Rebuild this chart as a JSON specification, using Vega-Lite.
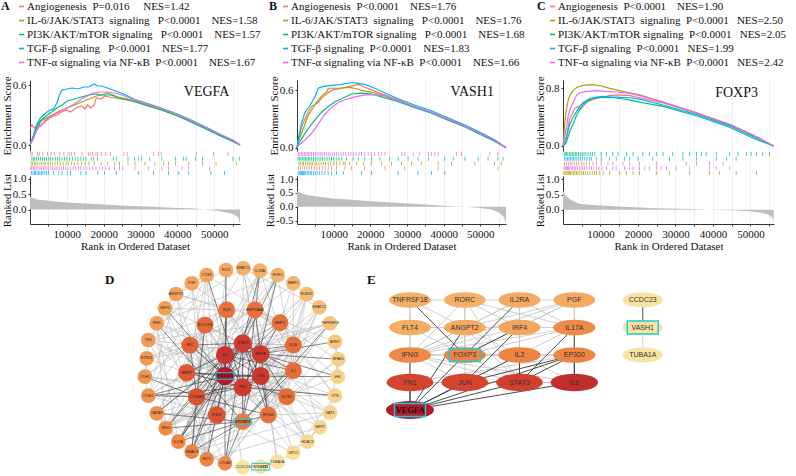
{
"$schema":"https://vega.github.io/schema/vega-lite/v6.json",
"padding":{"left":1,"top":1,"right":0,"bottom":0},
"background":"white",
"config":{
 "view":{"stroke":null},
 "font":"Liberation Serif",
 "axis":{"labelFont":"Liberation Serif","titleFont":"Liberation Serif","labelFontSize":11,"titleFontSize":11,"titleFontWeight":"normal","labelColor":"#111","titleColor":"#111","domainColor":"#333","tickColor":"#333","tickSize":2,"labelPadding":2,"gridColor":"#ebebeb","gridWidth":0.8},
 "axisY":{"titlePadding":0},
 "axisX":{"titlePadding":1},
 "legend":{"padding":0,"symbolType":"stroke","symbolSize":25,"symbolStrokeWidth":1.6,"labelFont":"Liberation Serif","labelFontSize":11,"labelColor":"#111","labelLimit":400,"labelOffset":0,"rowPadding":2,"titleFont":"Liberation Serif","titleFontSize":12,"titleFontWeight":"bold","titleColor":"#111","titleOrient":"left","titleAnchor":"start"}
},
"datasets":{
 "es":[
  {"p":"A","s":"a","x":[0,500,1200,2000,3000,4000,5000,6500,7500,8500,10000,11000,12500,14000,15000,15600,16500,17400,18000,19300,20300,21500,23000,25000,27000,28500,32000,36000,40000,44000,48000,52000,55000,57000],"y":[0.16,0.2,0.17,0.21,0.19,0.24,0.27,0.29,0.3,0.33,0.35,0.33,0.37,0.39,0.36,0.40,0.37,0.40,0.47,0.46,0.49,0.48,0.47,0.46,0.45,0.44,0.40,0.355,0.30,0.235,0.165,0.095,0.045,0.0]},
  {"p":"A","s":"b","x":[0,900,1800,3000,4500,6500,8000,10000,12000,14000,16000,18000,19500,21000,22500,24000,26500,28500,32000,36000,40000,44000,48000,52000,55000,57000],"y":[0,0.06,0.15,0.24,0.27,0.31,0.34,0.37,0.4,0.43,0.46,0.49,0.5,0.52,0.5,0.48,0.46,0.44,0.40,0.35,0.295,0.23,0.16,0.09,0.04,0]},
  {"p":"A","s":"c","x":[0,800,1800,2800,3700,5500,7300,8700,10100,12000,14000,16000,18000,20000,22000,24000,26500,28500,32000,36000,40000,44000,48000,52000,55000,57000],"y":[0,0.08,0.18,0.24,0.27,0.32,0.37,0.40,0.44,0.46,0.48,0.50,0.51,0.50,0.50,0.47,0.45,0.43,0.39,0.345,0.29,0.225,0.155,0.085,0.035,0]},
  {"p":"A","s":"d","x":[0,800,1800,2800,3700,4600,5500,6400,7300,8000,8700,10000,11500,13000,14700,16000,17400,18500,19500,21000,22500,24000,26000,28500,32000,36000,40000,44000,48000,52000,55000,57000],"y":[0,0.08,0.2,0.27,0.3,0.33,0.35,0.36,0.42,0.50,0.55,0.56,0.57,0.56,0.58,0.58,0.61,0.59,0.59,0.57,0.55,0.53,0.50,0.455,0.415,0.365,0.31,0.245,0.175,0.10,0.05,0]},
  {"p":"A","s":"e","x":[0,700,1400,2500,3700,5000,6500,8000,10000,12000,14000,15500,17000,19000,21000,23000,25000,27000,28500,32000,36000,40000,44000,48000,52000,55000,57000],"y":[0,0.05,0.12,0.18,0.22,0.26,0.30,0.33,0.37,0.41,0.46,0.49,0.52,0.53,0.53,0.52,0.50,0.47,0.45,0.41,0.36,0.305,0.24,0.17,0.10,0.05,0]},
  {"p":"B","s":"a","x":[0,360,1270,2180,3090,4000,4900,5810,6720,8080,9440,12170,14440,16710,18520,21250,23970,27600,32000,36700,41000,45800,51000,54000,57000],"y":[0,0.08,0.22,0.30,0.38,0.43,0.45,0.47,0.52,0.56,0.60,0.62,0.64,0.66,0.63,0.59,0.55,0.50,0.43,0.37,0.30,0.225,0.13,0.075,0]},
  {"p":"B","s":"b","x":[0,360,1725,3090,4900,6270,7630,8080,8540,11260,13980,15800,18520,21250,23970,27600,32000,36700,41000,45800,51000,54000,57000],"y":[0,0.06,0.20,0.34,0.45,0.52,0.57,0.58,0.62,0.62,0.63,0.62,0.59,0.57,0.54,0.49,0.425,0.365,0.295,0.22,0.125,0.07,0]},
  {"p":"B","s":"c","x":[0,360,1725,3090,4900,6720,8540,10350,12170,14890,17620,20340,23060,27600,32000,36700,41000,45800,51000,54000,57000],"y":[0,0.04,0.12,0.20,0.29,0.37,0.43,0.48,0.51,0.56,0.57,0.56,0.53,0.48,0.42,0.36,0.29,0.215,0.12,0.065,0]},
  {"p":"B","s":"d","x":[0,360,1270,2180,3540,4900,5810,7170,9440,12170,15070,16710,18520,21250,23970,27600,32000,36700,41000,45800,51000,54000,57000],"y":[0,0.09,0.26,0.37,0.44,0.53,0.62,0.64,0.65,0.66,0.68,0.67,0.66,0.62,0.57,0.51,0.445,0.385,0.315,0.235,0.14,0.08,0]},
  {"p":"B","s":"e","x":[0,360,2180,4000,5810,7630,9440,11260,13080,15800,18520,21250,23970,27600,32000,36700,41000,45800,51000,54000,57000],"y":[0,0.02,0.08,0.15,0.25,0.35,0.42,0.47,0.50,0.53,0.55,0.55,0.54,0.49,0.43,0.37,0.30,0.225,0.13,0.075,0]},
  {"p":"C","s":"a","x":[0,180,890,1330,1780,2490,3110,4000,4450,5330,6220,7110,8890,10670,12450,14220,17780,20450,26670,35560,44450,51560,56200],"y":[0,0.02,0.10,0.25,0.38,0.45,0.52,0.55,0.50,0.55,0.60,0.63,0.66,0.68,0.70,0.71,0.70,0.67,0.60,0.46,0.29,0.12,0]},
  {"p":"C","s":"b","x":[0,180,440,890,1330,1780,2670,3560,4450,6220,8000,9780,12450,15110,17780,20450,26670,35560,44450,51560,56200],"y":[0,0.10,0.30,0.50,0.62,0.70,0.77,0.81,0.83,0.85,0.85,0.84,0.80,0.77,0.74,0.71,0.61,0.46,0.30,0.13,0]},
  {"p":"C","s":"c","x":[0,180,890,1780,2670,3560,4450,5330,6670,8000,9780,12450,15110,17780,20450,26670,35560,44450,51560,56200],"y":[0,0.0,0.05,0.20,0.30,0.42,0.50,0.58,0.63,0.66,0.67,0.68,0.66,0.64,0.61,0.55,0.42,0.26,0.09,0]},
  {"p":"C","s":"d","x":[0,180,890,1780,2670,3560,4450,5330,6220,7110,8890,10670,12450,14220,17780,20450,26670,35560,44450,51560,56200],"y":[0,0.02,0.12,0.30,0.40,0.47,0.55,0.60,0.63,0.66,0.68,0.69,0.68,0.68,0.67,0.65,0.57,0.44,0.28,0.11,0]},
  {"p":"C","s":"e","x":[0,180,890,1330,1780,2220,2670,3560,4450,6220,8890,11560,14220,17780,20450,26670,35560,44450,51560,56200],"y":[0,0.05,0.25,0.40,0.50,0.55,0.60,0.70,0.74,0.76,0.77,0.76,0.75,0.73,0.70,0.61,0.46,0.30,0.13,0]}
 ],
 "hits":[
  {"p":"A","s":"a","x":[200,600,2000,2500,3500,4800,5700,6700,8100,9200,10600,11200,12100,14100,15800,16300,17000,17900,18400,19300,20600,21800,25500,26400,33500,34900,35600,45200,49800,53700]},
  {"p":"A","s":"c","x":[500,900,1300,1800,2300,2900,3400,3900,4500,5100,5600,6200,6900,7500,8000,8700,9400,10000,10700,11500,12300,13000,13800,14500,15200,16600,17300,18300,22600,23500,26600,28400,29400,30300,32500,35800,39500,41700,42400,44900,46800,55100,56800]},
  {"p":"A","s":"b","x":[300,700,1200,1600,2100,2700,3200,3800,4300,4900,5500,6100,6800,7500,8200,9000,9800,10500,11300,12000,13000,14000,15000,16000,17400,19300,21100,23000,24300,26600,28500,31200,33900,36300,37600,39500,43100,46800,50500,56000]},
  {"p":"A","s":"e","x":[200,500,900,1300,1700,2200,2700,3100,3600,4100,4600,5100,5700,6200,6800,7300,7900,8500,9100,9700,10300,11000,11700,12400,13100,13800,14600,15400,16200,17000,17900,18800,19700,20600,21500,22900,24300,25200,28500,32100,35800,37600,41300,43100,48700]},
  {"p":"A","s":"d","x":[400,800,1200,1500,1900,2300,2700,3100,3500,4000,4500,5000,6400,7800,8700,10100,11000,13800,15200,18400,20200,23400,29400,33500,37600,40400,43100,49100,52800]},
  {"p":"B","s":"e","x":[400,800,1200,1600,2000,2400,2800,3200,3600,4000,4500,5000,5500,6000,6500,7000,7500,8000,8500,9000,9600,10200,10800,11400,12000,12600,13300,14000,14700,15400,16100,16900,17600,18500,19400,20300,21200,22200,23100,24000,28600,29400,31700,33500,35800,36700,37600,38500,43500,44900,52600,54800]},
  {"p":"B","s":"c","x":[300,700,1100,1500,1900,2300,2700,3100,3500,4000,4500,5000,5500,6000,6500,7000,7600,8200,8800,9400,10000,10700,11400,12200,13500,15300,16700,18500,20300,22600,25300,27600,30300,33000,35800,40300,42600,45800,49400,52100,54800,56200]},
  {"p":"B","s":"b","x":[500,900,1400,1800,2300,2800,3300,3800,4300,4900,5400,6000,6600,7200,7800,8500,9200,10000,10800,11700,12600,13100,14400,16300,18100,20300,23100,25800,28500,31200,33900,38500,42100,48500,53900,55700]},
  {"p":"B","s":"a","x":[400,900,1500,2100,2700,3300,4000,4700,5400,6100,6900,7700,8500,9400,10800,13100,14900,18500,24000,29400,38500,54800]},
  {"p":"B","s":"d","x":[300,600,900,1200,1500,1800,2100,2400,2800,3200,3600,4000,4500,5000,5500,6100,6800,7600,8500,9400,10800,12600,17600,20300,27600,33000,36700,40300]},
  {"p":"C","s":"c","x":[300,600,900,1300,1700,2100,2500,2900,3300,3700,4100,4600,5100,5600,6100,6700,7300,7900,8500,10200,11600,13300,14700,16900,18700,21300,23100,24900,26700,29300,32000,33800,35600,36900,38200,40900,44500,46700,48900,50200,51600,53300,55100]},
  {"p":"C","s":"d","x":[400,800,1200,1600,2000,2400,2800,3200,3700,4200,4700,5200,5800,6400,7100,7600,8900,10200,12400,14200,16400,17800,20000,24000,28400,32000,35600,40900,43600,46200]},
  {"p":"C","s":"a","x":[400,900,1400,1900,2400,3000,3600,4200,4900,5600,6300,7100,8000,8900,10200,12000,13300,16000,17800,20400,24900,32900,35600,39100,42700]},
  {"p":"C","s":"e","x":[300,600,900,1200,1500,1800,2200,2600,3000,3400,3800,4300,4800,5300,5800,6400,7000,7600,8200,8900,9600,10400,11600,13300,14200,16400,17800,18700,20400,21800,23100,24900,26200,27600,30200,33800,39100,40900,44500]},
  {"p":"C","s":"b","x":[200,500,800,1100,1400,1700,2000,2400,2800,3200,3600,4000,4500,5000,5500,6000,6600,7200,7800,8400,8900,9800,10700,12400,15100,16900,18700,20400,24900,28400,33800,39100,41800,46200,51600]}
 ],
 "rk":[
  {"p":"A","x":[0,500,2000,5700,10000,14900,20000,25000,33200,40000,45100,47000,50000,52400,55200,56500,57000],"y":[0.42,0.38,0.33,0.28,0.23,0.2,0.16,0.13,0.09,0.05,0.03,0.0,-0.03,-0.07,-0.15,-0.25,-0.45]},
  {"p":"B","x":[0,1000,3000,6000,10000,15000,20000,25000,30000,35000,40000,44000,46000,50000,53000,55000,56300,57000],"y":[0.58,0.5,0.42,0.36,0.3,0.25,0.2,0.16,0.12,0.08,0.04,0.01,0.0,-0.04,-0.1,-0.2,-0.35,-0.58]},
  {"p":"C","x":[0,300,800,1800,2900,4500,7100,12000,16000,25000,34000,39000,44500,49800,52500,54500,55800,56200],"y":[0.65,0.55,0.45,0.35,0.27,0.2,0.16,0.12,0.1,0.05,0.02,0.0,-0.02,-0.05,-0.09,-0.15,-0.25,-0.42]}
 ],
 "dn":[
  {"id":"CTGF","x":-0.346,"y":0.933,"v":0.35},
  {"id":"FLT4","x":-0.153,"y":0.983,"v":0.33},
  {"id":"NFATC1","x":0.02,"y":1.0,"v":0.3},
  {"id":"IL2RA","x":0.187,"y":0.976,"v":0.3},
  {"id":"RORC","x":0.364,"y":0.933,"v":0.28},
  {"id":"MMP1","x":0.52,"y":0.85,"v":0.26},
  {"id":"RUNX1","x":0.654,"y":0.743,"v":0.25},
  {"id":"NFATC2","x":0.78,"y":0.61,"v":0.22},
  {"id":"TNFRSF18","x":0.887,"y":0.45,"v":0.2},
  {"id":"ARNT","x":0.937,"y":0.266,"v":0.17},
  {"id":"EPAS1","x":0.97,"y":0.09,"v":0.14},
  {"id":"VHL","x":0.964,"y":-0.084,"v":0.12},
  {"id":"VTN","x":0.937,"y":-0.274,"v":0.11},
  {"id":"KAT5","x":0.887,"y":-0.444,"v":0.1},
  {"id":"NRP2","x":0.787,"y":-0.59,"v":0.09},
  {"id":"HDAC9","x":0.66,"y":-0.734,"v":0.08},
  {"id":"GPC1","x":0.52,"y":-0.844,"v":0.06},
  {"id":"TUBA1A","x":0.36,"y":-0.934,"v":0.04},
  {"id":"VASH1","x":0.194,"y":-0.984,"v":0.03,"h":1},
  {"id":"CCDC23","x":0.014,"y":-0.99,"v":0.03},
  {"id":"CTLA4","x":-0.163,"y":-0.95,"v":0.45},
  {"id":"FLT1","x":-0.346,"y":-0.91,"v":0.47},
  {"id":"SMAD3","x":-0.496,"y":-0.834,"v":0.47},
  {"id":"IL17A","x":-0.63,"y":-0.734,"v":0.45},
  {"id":"IFNG","x":-0.756,"y":-0.6,"v":0.44},
  {"id":"GATA3","x":-0.846,"y":-0.45,"v":0.42},
  {"id":"ITGB1","x":-0.93,"y":-0.274,"v":0.41},
  {"id":"CDH5","x":-0.963,"y":-0.084,"v":0.4},
  {"id":"NTRK1","x":-0.946,"y":0.1,"v":0.39},
  {"id":"TEK","x":-0.93,"y":0.283,"v":0.38},
  {"id":"IRF4","x":-0.846,"y":0.45,"v":0.38},
  {"id":"NRP1","x":-0.763,"y":0.6,"v":0.37},
  {"id":"ANGPT2","x":-0.653,"y":0.743,"v":0.36},
  {"id":"PGF","x":-0.496,"y":0.85,"v":0.35},
  {"id":"KDR","x":-0.146,"y":0.583,"v":0.55},
  {"id":"HSP90AA1","x":0.137,"y":0.583,"v":0.56},
  {"id":"NOTCH1","x":-0.363,"y":0.433,"v":0.6},
  {"id":"MMP2","x":0.387,"y":0.456,"v":0.55},
  {"id":"SRC","x":-0.513,"y":0.233,"v":0.63},
  {"id":"STAT3","x":0.014,"y":0.25,"v":0.8},
  {"id":"IL6","x":-0.163,"y":0.133,"v":0.86},
  {"id":"HIF1A","x":0.194,"y":0.143,"v":0.82},
  {"id":"IL1B","x":0.52,"y":0.233,"v":0.58},
  {"id":"MMP9","x":-0.546,"y":-0.044,"v":0.68},
  {"id":"VEGFA","x":-0.163,"y":-0.077,"v":1,"h":1},
  {"id":"JUN","x":0.194,"y":-0.077,"v":0.83},
  {"id":"IL2","x":0.52,"y":-0.024,"v":0.58},
  {"id":"FN1","x":0.014,"y":-0.19,"v":0.8},
  {"id":"CTNNB1","x":-0.446,"y":-0.284,"v":0.7},
  {"id":"NOS3","x":0.454,"y":-0.284,"v":0.58},
  {"id":"FGF2","x":-0.246,"y":-0.467,"v":0.7},
  {"id":"FOXP3","x":0.014,"y":-0.534,"v":0.52,"h":1},
  {"id":"EP300","x":0.27,"y":-0.467,"v":0.56}
 ],
 "de":[
  {"s":"KDR","t":["FLT1","FLT4","NRP1","NRP2","PGF","ANGPT2","TEK","SRC","HSP90AA1","NOS3","CDH5","IL6"],"w":1},
  {"s":"NOTCH1","t":["JUN","STAT3","HIF1A","SMAD3","GATA3","IFNG","EP300","IL6"],"w":1},
  {"s":"SRC","t":["HIF1A","FN1","ITGB1","NOS3","EP300","CDH5","TEK","NTRK1","HSP90AA1","IL6"],"w":1},
  {"s":"MMP2","t":["MMP9","MMP1","VTN","TEK","ANGPT2","FGF2","IL6","CTGF","ITGB1","HIF1A"],"w":1},
  {"s":"MMP9","t":["MMP1","IL1B","FGF2","CTGF","ITGB1","NOS3","TNFRSF18","TEK","NTRK1"],"w":1},
  {"s":"IL1B","t":["IL2","IFNG","IL17A","MMP1","NOS3","HIF1A","STAT3","JUN","FN1","NFATC2","RUNX1","VTN","NRP2","CTLA4"],"w":1},
  {"s":"IL2","t":["IL2RA","IFNG","CTLA4","IL17A","NFATC1","NFATC2","IRF4","GATA3","RUNX1","TNFRSF18","RORC","JUN"],"w":1},
  {"s":"NOS3","t":["HSP90AA1","FLT1","VHL","EPAS1","KAT5","HDAC9","TEK","CDH5","IL2","JUN"],"w":1},
  {"s":"FGF2","t":["FLT1","PGF","ANGPT2","KDR","NOTCH1","SMAD3","CTGF","GPC1","NRP1","ITGB1","STAT3","IL6"],"w":1},
  {"s":"EP300","t":["SMAD3","EPAS1","RUNX1","KAT5","HDAC9","NFATC1","NFATC2","ARNT","IRF4","GATA3","IL2","NOS3"],"w":1},
  {"s":"HSP90AA1","t":["EPAS1","ARNT","VHL","TUBA1A","JUN","IL1B","MMP2","NTRK1"],"w":1},
  {"s":"IL6","t":["IL2RA","RORC","GATA3","IRF4","TNFRSF18","CTGF","VTN","HIF1A","CCDC23"],"w":1},
  {"s":"JUN","t":["IL2","IL1B","NFATC1","NFATC2","SMAD3","HDAC9","RUNX1","KAT5","HIF1A"],"w":1},
  {"s":"HIF1A","t":["IL1B","MMP9","KAT5","HDAC9","TUBA1A","GPC1","FN1","IL2"],"w":1},
  {"s":"STAT3","t":["NRP1","NTRK1","KDR","HSP90AA1","HDAC9","MMP9","FN1","IL1B","TNFRSF18","NFATC1"],"w":1},
  {"s":"FN1","t":["TEK","NOTCH1","FGF2","SRC","NRP2","HDAC9","GPC1","FOXP3","EP300"],"w":1},
  {"s":"IL17A","t":["RORC","IFNG","GATA3","IL2RA","IRF4","TNFRSF18","CTLA4","IL2"],"w":1},
  {"s":"IFNG","t":["IRF4","GATA3","CTLA4","IL2RA","TNFRSF18","RUNX1","NFATC2","JUN"],"w":1},
  {"s":"FLT1","t":["FLT4","PGF","NRP1","NRP2","TEK","ANGPT2"],"w":1},
  {"s":"ANGPT2","t":["TEK","PGF","NRP1","FLT4","ITGB1"],"w":1},
  {"s":"CTLA4","t":["IL2RA","TNFRSF18","GATA3","IRF4","RORC"],"w":1},
  {"s":"RORC","t":["IRF4","GATA3","NFATC1","RUNX1"],"w":1},
  {"s":"NFATC1","t":["NFATC2","GATA3","IRF4"],"w":1},
  {"s":"RUNX1","t":["GATA3","SMAD3","NFATC2"],"w":1},
  {"s":"ARNT","t":["EPAS1","VHL"],"w":1},
  {"s":"EPAS1","t":["VHL","KAT5"],"w":1},
  {"s":"HDAC9","t":["KAT5","NRP2"],"w":1},
  {"s":"GPC1","t":["NRP2","TUBA1A","VTN"],"w":1},
  {"s":"VTN","t":["ITGB1","CDH5"],"w":1},
  {"s":"CDH5","t":["TEK","ITGB1","NTRK1"],"w":1},
  {"s":"SMAD3","t":["CTGF","GATA3","KAT5"],"w":1},
  {"s":"CTGF","t":["ITGB1","TEK","PGF"],"w":1},
  {"s":"TUBA1A","t":["CCDC23"],"w":1},
  {"s":"VEGFA","t":["IL6","STAT3","HIF1A","JUN","FN1","MMP9","SRC","KDR","FLT1","NRP1","CTNNB1","FGF2","MMP2","NOS3","HSP90AA1","FLT4","IL17A","SMAD3","ITGB1","VHL"],"w":2},
  {"s":"STAT3","t":["IL6","JUN","HIF1A","IL2","IL17A","RORC","FOXP3","EP300","SRC","IFNG","IL2RA","CTLA4","GATA3"],"w":2},
  {"s":"IL6","t":["JUN","IL1B","IL17A","IFNG","FN1","MMP9","IL2","CTLA4","SMAD3"],"w":2},
  {"s":"FOXP3","t":["IL2","CTLA4","IL2RA","GATA3","RORC","IRF4","TNFRSF18","IL17A","SMAD3","IFNG","EP300"],"w":2},
  {"s":"HIF1A","t":["ARNT","EPAS1","VHL","EP300","NOS3","HSP90AA1"],"w":2},
  {"s":"JUN","t":["FN1","EP300","CTNNB1","MMP9"],"w":2},
  {"s":"CTNNB1","t":["SMAD3","EP300","CDH5","NOTCH1","SRC","FN1","ITGB1"],"w":2},
  {"s":"FN1","t":["ITGB1","VTN","MMP2","MMP9","CTGF"],"w":2},
  {"s":"VASH1","t":["TUBA1A","CCDC23"],"w":2}
 ],
 "en":[
  {"id":"TNFRSF18","x":1,"y":1,"v":0.3},{"id":"RORC","x":2,"y":1,"v":0.3},{"id":"IL2RA","x":3,"y":1,"v":0.32},{"id":"PGF","x":4,"y":1,"v":0.32},
  {"id":"FLT4","x":1,"y":2,"v":0.3},{"id":"ANGPT2","x":2,"y":2,"v":0.32},{"id":"IRF4","x":3,"y":2,"v":0.34},{"id":"IL17A","x":4,"y":2,"v":0.45},
  {"id":"IFNG","x":1,"y":3,"v":0.45},{"id":"FOXP3","x":2,"y":3,"v":0.47,"h":1},{"id":"IL2","x":3,"y":3,"v":0.47},{"id":"EP300","x":4,"y":3,"v":0.47},
  {"id":"FN1","x":1,"y":4,"v":0.76},{"id":"JUN","x":2,"y":4,"v":0.76},{"id":"STAT3","x":3,"y":4,"v":0.78},{"id":"IL6","x":4,"y":4,"v":0.9},
  {"id":"VEGFA","x":1,"y":5,"v":1,"h":1},
  {"id":"CCDC23","x":5.25,"y":1,"v":0.03},{"id":"VASH1","x":5.25,"y":2,"v":0.03,"h":1},{"id":"TUBA1A","x":5.25,"y":3,"v":0.03}
 ],
 "ee":[
  {"s":"TNFRSF18","t":["RORC","FLT4","ANGPT2","IFNG"],"w":1},
  {"s":"RORC","t":["IL2RA","ANGPT2","IL17A","STAT3","FOXP3","IRF4","IFNG"],"w":1},
  {"s":"IL2RA","t":["PGF","IRF4","IFNG","ANGPT2","IL17A","STAT3"],"w":1},
  {"s":"PGF","t":["IL17A","ANGPT2","FOXP3","IFNG","IRF4","EP300"],"w":1},
  {"s":"FLT4","t":["ANGPT2","IFNG","FOXP3"],"w":1},
  {"s":"ANGPT2","t":["IRF4","FOXP3","IL2","IFNG","STAT3"],"w":1},
  {"s":"IRF4","t":["IL17A","IL2","IFNG","STAT3"],"w":1},
  {"s":"IL17A","t":["IFNG","EP300","IL2","FOXP3"],"w":1},
  {"s":"IFNG","t":["FOXP3","IL2","FN1","STAT3","IL6","JUN"],"w":1},
  {"s":"FOXP3","t":["IL2","JUN","STAT3","EP300"],"w":1},
  {"s":"IL2","t":["EP300","JUN","IL6"],"w":1},
  {"s":"FN1","t":["JUN","STAT3","IL6","EP300"],"w":1},
  {"s":"JUN","t":["STAT3","IL6"],"w":1},
  {"s":"STAT3","t":["IL6"],"w":1},
  {"s":"VASH1","t":["TUBA1A"],"w":1},
  {"s":"VEGFA","t":["FN1","JUN","STAT3","IL6","IL2","EP300","ANGPT2","FOXP3","IFNG"],"w":2},
  {"s":"FOXP3","t":["TNFRSF18","IL2RA","IRF4"],"w":2},
  {"s":"JUN","t":["IRF4","EP300"],"w":2},
  {"s":"STAT3","t":["IL17A","EP300","IL2"],"w":2},
  {"s":"IL6","t":["IL17A","EP300"],"w":2},
  {"s":"VASH1","t":["CCDC23"],"w":2}
 ]
},
"columns":3,
"spacing":{"row":0,"column":57},
"bounds":"flush",
"resolve":{"scale":{"color":"independent","size":"independent"},"legend":{"color":"independent","size":"independent"}},
"concat":[
 {"width":210,"height":71,
  "layer":[
   {"data":{"name":"es"},"transform":[{"filter":"datum.p=='A'"},{"flatten":["x","y"]}],
    "mark":{"type":"line","strokeWidth":1.2},
    "encoding":{
     "x":{"field":"x","type":"quantitative","scale":{"domain":[0,57000],"nice":false},"axis":{"orient":"bottom","values":[5000,10000,15000,20000,25000,30000,35000,40000,45000,50000,55000],"grid":true,"labels":false,"ticks":false,"domain":false,"title":null}},
     "y":{"field":"y","type":"quantitative","scale":{"domain":[-0.06,0.65],"nice":false,"zero":false},"axis":{"title":"Enrichment Score","values":[0,0.2,0.4,0.6],"format":".1f","grid":false}},
     "color":{"field":"s","type":"nominal","scale":{"domain":["a","b","c","d","e"],"range":["#F8766D","#A3A500","#00BF7D","#00B0F6","#E76BF3"]},
      "legend":{"orient":"none","legendX":-29,"legendY":-79,"direction":"vertical","title":"A","titlePadding":6,
       "labelExpr":"datum.value=='a'?'Angiogenesis\u00a0\u00a0P=0.016\u00a0\u00a0\u00a0\u00a0\u00a0NES=1.42':datum.value=='b'?'IL-6/JAK/STAT3\u00a0\u00a0signaling\u00a0\u00a0\u00a0P<0.0001\u00a0\u00a0\u00a0\u00a0NES=1.58':datum.value=='c'?'PI3K/AKT/mTOR signaling\u00a0\u00a0\u00a0P<0.0001\u00a0\u00a0\u00a0\u00a0NES=1.57':datum.value=='d'?'TGF-β signaling\u00a0\u00a0\u00a0P<0.0001\u00a0\u00a0\u00a0\u00a0NES=1.77':'TNF-α signaling via NF-κB\u00a0\u00a0P<0.0001\u00a0\u00a0\u00a0\u00a0NES=1.67'"}}
    }},
   {"data":{"values":[{"g":"VEGFA","x":47950,"y":0.53}]},
    "mark":{"type":"text","font":"Liberation Serif","fontSize":14,"color":"#111"},
    "encoding":{"x":{"field":"x","type":"quantitative"},"y":{"field":"y","type":"quantitative"},"text":{"field":"g"}}}
  ]},
 {"width":209,"height":71,
  "layer":[
   {"data":{"name":"es"},"transform":[{"filter":"datum.p=='B'"},{"flatten":["x","y"]}],
    "mark":{"type":"line","strokeWidth":1.2},
    "encoding":{
     "x":{"field":"x","type":"quantitative","scale":{"domain":[0,57000],"nice":false},"axis":{"orient":"bottom","values":[5000,10000,15000,20000,25000,30000,35000,40000,45000,50000,55000],"grid":true,"labels":false,"ticks":false,"domain":false,"title":null}},
     "y":{"field":"y","type":"quantitative","scale":{"domain":[-0.035,0.706],"nice":false,"zero":false},"axis":{"title":"Enrichment Score","values":[0,0.2,0.4,0.6],"format":".1f","grid":false}},
     "color":{"field":"s","type":"nominal","scale":{"domain":["a","b","c","d","e"],"range":["#F8766D","#A3A500","#00BF7D","#00B0F6","#E76BF3"]},
      "legend":{"orient":"none","legendX":-28,"legendY":-79,"direction":"vertical","title":"B","titlePadding":2,
       "labelExpr":"datum.value=='a'?'Angiogenesis\u00a0\u00a0P<0.0001\u00a0\u00a0\u00a0\u00a0NES=1.76':datum.value=='b'?'IL-6/JAK/STAT3\u00a0\u00a0signaling\u00a0\u00a0\u00a0P<0.0001\u00a0\u00a0\u00a0\u00a0NES=1.76':datum.value=='c'?'PI3K/AKT/mTOR signaling\u00a0\u00a0\u00a0P<0.0001\u00a0\u00a0\u00a0\u00a0NES=1.68':datum.value=='d'?'TGF-β signaling\u00a0\u00a0P<0.0001\u00a0\u00a0\u00a0\u00a0NES=1.83':'TNF-α signaling via NF-κB\u00a0\u00a0P<0.0001\u00a0\u00a0\u00a0\u00a0NES=1.66'"}}
    }},
   {"data":{"values":[{"g":"VASH1","x":47800,"y":0.576}]},
    "mark":{"type":"text","font":"Liberation Serif","fontSize":14,"color":"#111"},
    "encoding":{"x":{"field":"x","type":"quantitative"},"y":{"field":"y","type":"quantitative"},"text":{"field":"g"}}}
  ]},
 {"width":211,"height":71,
  "layer":[
   {"data":{"name":"es"},"transform":[{"filter":"datum.p=='C'"},{"flatten":["x","y"]}],
    "mark":{"type":"line","strokeWidth":1.2},
    "encoding":{
     "x":{"field":"x","type":"quantitative","scale":{"domain":[0,56300],"nice":false},"axis":{"orient":"bottom","values":[5000,10000,15000,20000,25000,30000,35000,40000,45000,50000,55000],"grid":true,"labels":false,"ticks":false,"domain":false,"title":null}},
     "y":{"field":"y","type":"quantitative","scale":{"domain":[-0.07,0.917],"nice":false,"zero":false},"axis":{"title":"Enrichment Score","values":[0,0.2,0.4,0.6,0.8],"format":".1f","grid":false}},
     "color":{"field":"s","type":"nominal","scale":{"domain":["a","b","c","d","e"],"range":["#F8766D","#A3A500","#00BF7D","#00B0F6","#E76BF3"]},
      "legend":{"orient":"none","legendX":-26,"legendY":-79,"direction":"vertical","title":"C","titlePadding":1,
       "labelExpr":"datum.value=='a'?'Angiogenesis\u00a0\u00a0P<0.0001\u00a0\u00a0\u00a0\u00a0NES=1.90':datum.value=='b'?'IL-6/JAK/STAT3\u00a0\u00a0signaling\u00a0\u00a0P<0.0001\u00a0\u00a0\u00a0NES=2.50':datum.value=='c'?'PI3K/AKT/mTOR signaling\u00a0\u00a0P<0.0001\u00a0\u00a0\u00a0NES=2.05':datum.value=='d'?'TGF-β signaling\u00a0\u00a0P<0.0001\u00a0\u00a0\u00a0NES=1.99':'TNF-α signaling via NF-κB\u00a0\u00a0P<0.0001\u00a0\u00a0\u00a0NES=2.42'"}}
    }},
   {"data":{"values":[{"g":"FOXP3","x":46300,"y":0.738}]},
    "mark":{"type":"text","font":"Liberation Serif","fontSize":14,"color":"#111"},
    "encoding":{"x":{"field":"x","type":"quantitative"},"y":{"field":"y","type":"quantitative"},"text":{"field":"g"}}}
  ]},
 {"width":210,"height":25,"data":{"name":"hits"},"transform":[{"filter":"datum.p=='A'"},{"flatten":["x"]}],
  "mark":{"type":"tick","thickness":0.8,"size":4,"opacity":0.9},
  "encoding":{
   "x":{"field":"x","type":"quantitative","scale":{"domain":[0,57000],"nice":false},"axis":{"values":[5000,10000,15000,20000,25000,30000,35000,40000,45000,50000,55000],"grid":true,"labels":false,"ticks":false,"domain":false,"title":null}},
   "y":{"field":"s","type":"nominal","scale":{"domain":["a","c","b","e","d"],"paddingInner":0,"paddingOuter":0.1},"axis":null},
   "color":{"field":"s","type":"nominal","scale":{"domain":["a","b","c","d","e"],"range":["#F8766D","#A3A500","#00BF7D","#00B0F6","#E76BF3"]},"legend":null}
  }},
 {"width":209,"height":25,"data":{"name":"hits"},"transform":[{"filter":"datum.p=='B'"},{"flatten":["x"]}],
  "mark":{"type":"tick","thickness":0.8,"size":4,"opacity":0.9},
  "encoding":{
   "x":{"field":"x","type":"quantitative","scale":{"domain":[0,57000],"nice":false},"axis":{"values":[5000,10000,15000,20000,25000,30000,35000,40000,45000,50000,55000],"grid":true,"labels":false,"ticks":false,"domain":false,"title":null}},
   "y":{"field":"s","type":"nominal","scale":{"domain":["e","c","b","a","d"],"paddingInner":0,"paddingOuter":0.1},"axis":null},
   "color":{"field":"s","type":"nominal","scale":{"domain":["a","b","c","d","e"],"range":["#F8766D","#A3A500","#00BF7D","#00B0F6","#E76BF3"]},"legend":null}
  }},
 {"width":211,"height":25,"data":{"name":"hits"},"transform":[{"filter":"datum.p=='C'"},{"flatten":["x"]}],
  "mark":{"type":"tick","thickness":0.8,"size":4,"opacity":0.9},
  "encoding":{
   "x":{"field":"x","type":"quantitative","scale":{"domain":[0,56300],"nice":false},"axis":{"values":[5000,10000,15000,20000,25000,30000,35000,40000,45000,50000,55000],"grid":true,"labels":false,"ticks":false,"domain":false,"title":null}},
   "y":{"field":"s","type":"nominal","scale":{"domain":["c","d","a","e","b"],"paddingInner":0,"paddingOuter":0.1},"axis":null},
   "color":{"field":"s","type":"nominal","scale":{"domain":["a","b","c","d","e"],"range":["#F8766D","#A3A500","#00BF7D","#00B0F6","#E76BF3"]},"legend":null}
  }},
 {"width":210,"height":48,"data":{"name":"rk"},"transform":[{"filter":"datum.p=='A'"},{"flatten":["x","y"]}],
  "mark":{"type":"area","color":"#BEBEBE"},
  "encoding":{
   "x":{"field":"x","type":"quantitative","scale":{"domain":[0,57000],"nice":false},"axis":{"title":"Rank in Ordered Dataset","values":[5000,10000,15000,20000,25000,30000,35000,40000,45000,50000,55000],"labelExpr":"datum.value % 10000 == 0 ? format(datum.value,'d') : ''","labelOverlap":false,"grid":true}},
   "y":{"field":"y","type":"quantitative","scale":{"domain":[-0.47,1.09],"nice":false,"zero":false},"axis":{"title":"Ranked List","values":[0,0.5,1],"format":".1f","grid":false}},
   "y2":{"datum":0}
  }},
 {"width":209,"height":48,"data":{"name":"rk"},"transform":[{"filter":"datum.p=='B'"},{"flatten":["x","y"]}],
  "mark":{"type":"area","color":"#BEBEBE"},
  "encoding":{
   "x":{"field":"x","type":"quantitative","scale":{"domain":[0,57000],"nice":false},"axis":{"title":"Rank in Ordered Dataset","values":[5000,10000,15000,20000,25000,30000,35000,40000,45000,50000,55000],"labelExpr":"datum.value % 10000 == 0 ? format(datum.value,'d') : ''","labelOverlap":false,"grid":true}},
   "y":{"field":"y","type":"quantitative","scale":{"domain":[-0.62,1.11],"nice":false,"zero":false},"axis":{"title":"Ranked List","values":[-0.5,0,0.5,1],"labelExpr":"replace(format(datum.value,'.1f'),'\u2212','-')","grid":false}},
   "y2":{"datum":0}
  }},
 {"width":211,"height":48,"data":{"name":"rk"},"transform":[{"filter":"datum.p=='C'"},{"flatten":["x","y"]}],
  "mark":{"type":"area","color":"#BEBEBE"},
  "encoding":{
   "x":{"field":"x","type":"quantitative","scale":{"domain":[0,56300],"nice":false},"axis":{"title":"Rank in Ordered Dataset","values":[5000,10000,15000,20000,25000,30000,35000,40000,45000,50000,55000],"labelExpr":"datum.value % 10000 == 0 ? format(datum.value,'d') : ''","labelOverlap":false,"grid":true}},
   "y":{"field":"y","type":"quantitative","scale":{"domain":[-0.47,1.11],"nice":false,"zero":false},"axis":{"title":"Ranked List","values":[0,0.5,1],"format":".1f","grid":false}},
   "y2":{"datum":0}
  }},
 {"width":210,"height":252,
  "title":{"text":"D","anchor":"start","frame":"group","dx":75,"dy":63,"offset":0,"fontSize":13,"font":"Liberation Serif","fontWeight":"bold","color":"#111"},
  "encoding":{
   "x":{"field":"x","type":"quantitative","scale":{"domain":[-2.113,-0.013],"nice":false,"zero":false},"axis":null},
   "y":{"field":"y","type":"quantitative","scale":{"domain":[-1.077,1.443],"nice":false,"zero":false},"axis":null}
  },
  "layer":[
   {"data":{"name":"de"},"transform":[{"filter":"datum.w==1"},{"flatten":["t"]},{"lookup":"s","from":{"data":{"name":"dn"},"key":"id","fields":["x","y"]}},{"lookup":"t","from":{"data":{"name":"dn"},"key":"id","fields":["x","y"]},"as":["x2","y2"]}],
    "mark":{"type":"rule","color":"#b3b3b3","strokeWidth":0.6,"opacity":0.9},
    "encoding":{"x2":{"field":"x2"},"y2":{"field":"y2"}}},
   {"data":{"name":"de"},"transform":[{"filter":"datum.w==2"},{"flatten":["t"]},{"lookup":"s","from":{"data":{"name":"dn"},"key":"id","fields":["x","y"]}},{"lookup":"t","from":{"data":{"name":"dn"},"key":"id","fields":["x","y"]},"as":["x2","y2"]}],
    "mark":{"type":"rule","color":"#333333","strokeWidth":0.7,"opacity":0.85},
    "encoding":{"x2":{"field":"x2"},"y2":{"field":"y2"}}},
   {"data":{"name":"dn"},"mark":{"type":"point","filled":true,"opacity":1,"shape":"circle"},
    "encoding":{
     "size":{"field":"v","type":"quantitative","scale":{"domain":[0,0.48,0.52,1],"range":[215,215,280,350]},"legend":null},
     "color":{"field":"v","type":"quantitative","scale":{"domain":[0.03,0.32,0.47,0.77,1],"range":["#F8E3A0","#F5AA63","#EE8443","#D3412F","#B51A2B"]},"legend":null}}},
   {"data":{"name":"dn"},"transform":[{"filter":"datum.h==1"}],"mark":{"type":"point","shape":"M-1,-0.37H1V0.37H-1Z","size":324,"filled":false,"stroke":"#1CC8DE","strokeWidth":1,"opacity":1}},
   {"data":{"name":"dn"},"transform":[{"filter":"datum.h!=1"}],"mark":{"type":"text","font":"Liberation Sans","fontSize":3.6,"color":"#222"},"encoding":{"text":{"field":"id"}}},
   {"data":{"name":"dn"},"transform":[{"filter":"datum.h==1"}],"mark":{"type":"text","font":"Liberation Serif","fontSize":4.8,"fontWeight":"bold","color":"#111"},"encoding":{"text":{"field":"id"}}}
  ],
  "resolve":{"scale":{"color":"independent","size":"independent"}}},
 {"width":209,"height":252,
  "title":{"text":"E","anchor":"start","frame":"group","dx":70,"dy":63,"offset":0,"fontSize":13,"font":"Liberation Serif","fontWeight":"bold","color":"#111"},
  "encoding":{
   "x":{"field":"x","type":"quantitative","scale":{"domain":[-1.063,2.753],"nice":false,"zero":false},"axis":null},
   "y":{"field":"y","type":"quantitative","scale":{"domain":[-1.764,7.4],"nice":false,"zero":false,"reverse":true},"axis":null}
  },
  "layer":[
   {"data":{"name":"ee"},"transform":[{"filter":"datum.w==1"},{"flatten":["t"]},{"lookup":"s","from":{"data":{"name":"en"},"key":"id","fields":["x","y"]}},{"lookup":"t","from":{"data":{"name":"en"},"key":"id","fields":["x","y"]},"as":["x2","y2"]}],
    "mark":{"type":"rule","color":"#c4c4c4","strokeWidth":0.9,"opacity":0.9},
    "encoding":{"x2":{"field":"x2"},"y2":{"field":"y2"}}},
   {"data":{"name":"ee"},"transform":[{"filter":"datum.w==2"},{"flatten":["t"]},{"lookup":"s","from":{"data":{"name":"en"},"key":"id","fields":["x","y"]}},{"lookup":"t","from":{"data":{"name":"en"},"key":"id","fields":["x","y"]},"as":["x2","y2"]}],
    "mark":{"type":"rule","color":"#3a3a3a","strokeWidth":1,"opacity":0.9},
    "encoding":{"x2":{"field":"x2"},"y2":{"field":"y2"}}},
   {"data":{"name":"en"},"mark":{"type":"point","filled":true,"opacity":1,"shape":"M-1,0C-1,-0.2043,-0.5523,-0.37,0,-0.37C0.5523,-0.37,1,-0.2043,1,0C1,0.2043,0.5523,0.37,0,0.37C-0.5523,0.37,-1,0.2043,-1,0Z"},
    "encoding":{
     "size":{"field":"v","type":"quantitative","scale":{"domain":[0.03,0.32,0.5,0.76,1],"range":[1600,1764,1800,2180,2304]},"legend":null},
     "color":{"field":"v","type":"quantitative","scale":{"domain":[0.03,0.32,0.47,0.77,1],"range":["#F8E3A0","#F5AA63","#EE8443","#D3412F","#B51A2B"]},"legend":null}}},
   {"data":{"name":"en"},"transform":[{"filter":"datum.h==1"}],"mark":{"type":"point","shape":"M-1,-0.42H1V0.42H-1Z","size":961,"filled":false,"stroke":"#1CC8DE","strokeWidth":1.4,"opacity":1}},
   {"data":{"name":"en"},"transform":[{"filter":"datum.id!='VEGFA'"}],"mark":{"type":"text","font":"Liberation Sans","fontSize":7,"color":"#333"},"encoding":{"text":{"field":"id"}}},
   {"data":{"name":"en"},"transform":[{"filter":"datum.id=='VEGFA'"}],"mark":{"type":"text","font":"Liberation Serif","fontSize":8.5,"fontWeight":"bold","color":"#111"},"encoding":{"text":{"field":"id"}}}
  ],
  "resolve":{"scale":{"color":"independent","size":"independent"}}}
]
}
